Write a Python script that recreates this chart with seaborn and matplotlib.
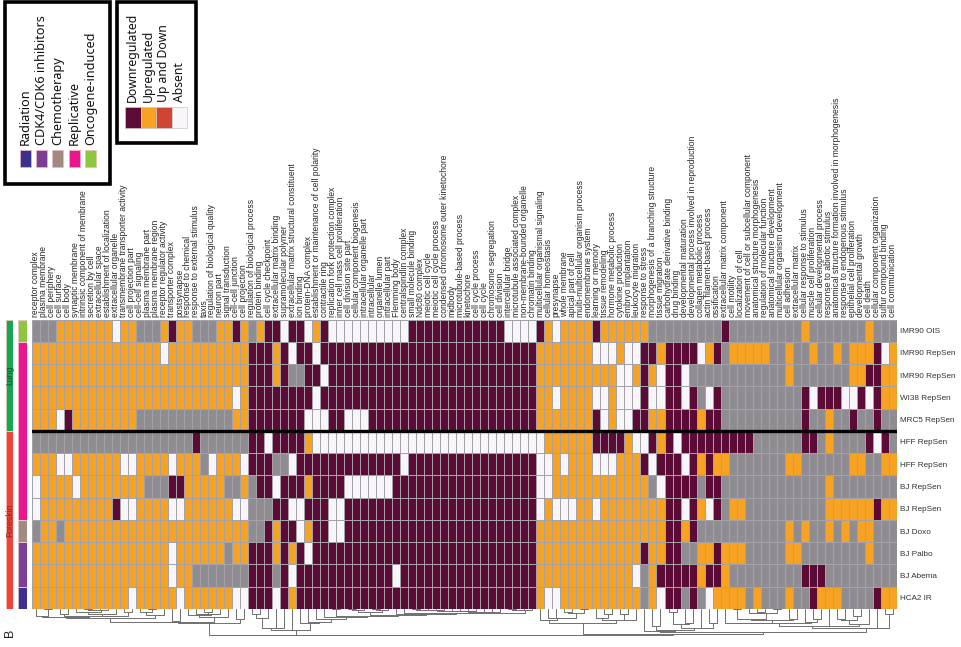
import numpy as np
import pandas as pd
import matplotlib
matplotlib.use("Agg")
import matplotlib.pyplot as plt
from matplotlib.colors import ListedColormap
from matplotlib.patches import Rectangle
import seaborn as sns

# GO terms (columns of the heatmap, left to right)
go_terms = [
    "receptor complex", "plasma membrane", "cell periphery", "cell surface", "cell body",
    "synaptic membrane", "intrinsic component of membrane", "secretion by cell",
    "extracellular space", "establishment of localization", "extracellular organelle",
    "transmembrane transporter activity", "cell projection part", "cell-cell signaling",
    "plasma membrane part", "plasma membrane region", "receptor regulator activity",
    "transporter complex", "postsynapse", "response to chemical",
    "response to external stimulus", "taxis", "regulation of biological quality",
    "neuron part", "signal transduction", "cell-cell junction", "cell projection",
    "regulation of biological process", "protein binding", "cell cycle checkpoint",
    "extracellular matrix binding", "supramolecular polymer",
    "extracellular matrix structural constituent", "ion binding", "protein-DNA complex",
    "establishment or maintenance of cell polarity", "contractile ring",
    "replication fork protection complex", "inner cell mass cell proliferation",
    "cell division site part", "cellular component biogenesis",
    "intracellular organelle part", "intracellular", "organelle lumen",
    "intracellular part", "Flemming body", "centralspindlin complex",
    "small molecule binding", "Ndc80 complex", "meiotic cell cycle",
    "meiotic cell cycle process", "condensed chromosome outer kinetochore", "midbody",
    "microtubule-based process", "kinetochore", "cell cycle process", "cell cycle",
    "chromosome segregation", "cell division", "intercellular bridge",
    "microtubule associated complex", "non-membrane-bounded organelle",
    "chromatin binding", "multicellular organismal signaling", "cellular homeostasis",
    "presynapse", "whole membrane", "apical part of cell",
    "multi-multicellular organism process", "endomembrane system", "learning or memory",
    "tissue remodeling", "hormone metabolic process", "cytokine production",
    "embryo implantation", "leukocyte migration", "response to stress",
    "morphogenesis of a branching structure", "tissue migration",
    "carbohydrate derivative binding", "drug binding", "developmental maturation",
    "developmental process involved in reproduction", "collagen metabolic process",
    "actin filament-based process", "ossification", "extracellular matrix component",
    "cell motility", "localization of cell", "movement of cell or subcellular component",
    "anatomical structure morphogenesis", "regulation of molecular function",
    "anatomical structure development", "multicellular organism development",
    "cell adhesion", "extracellular matrix", "cellular response to stimulus",
    "muscle cell proliferation", "cellular developmental process",
    "response to abiotic stimulus",
    "anatomical structure formation involved in morphogenesis",
    "response to endogenous stimulus", "epithelial cell proliferation",
    "developmental growth", "cell death", "cellular component organization",
    "sulfur compound binding", "cell communication",
]

samples = ["IMR90 OIS", "IMR90 RepSen", "IMR90 RepSen", "WI38 RepSen", "MRC5 RepSen",
           "HFF RepSen", "HFF RepSen", "BJ RepSen", "BJ RepSen", "BJ Doxo", "BJ Palbo",
           "BJ Abema", "HCA2 IR"]
tissue = ["Lung", "Lung", "Lung", "Lung", "Lung", "Foreskin", "Foreskin", "Foreskin",
          "Foreskin", "Foreskin", "Foreskin", "Foreskin", "Foreskin"]
sen_type = ["Oncogene-induced", "Replicative", "Replicative", "Replicative", "Replicative",
            "Replicative", "Replicative", "Replicative", "Replicative", "Chemotherapy",
            "CDK4/CDK6 inhibitors", "CDK4/CDK6 inhibitors", "Radiation"]

# status per sample, run-length coded: M=Downregulated, O=Upregulated,
# R=Up and Down, W=Absent, G=not tested
status_rows = [
    "G3 O7 W1 O2 G3 O1 M1 O2 G3 O2 M1 O1 G1 O1 M2 W1 M2 W1 O1 M1 W10 M12 W4 M1 O1 W1 O4 M1 O6 G9 M1 G9 O1 G7 O1 G3",
    "O16 W1 O10 M3 O1 M1 W1 M2 W1 M1 M26 O7 W3 O1 W2 M1 M1 O1 M4 W1 O1 M1 G1 O5 G2 O1 G2 O1 G2 O1 G1 O3 M1 W1 O1",
    "O27 M3 O1 M1 G2 M2 W1 M26 O10 W2 O1 M1 O1 W1 M2 W1 G12 O1 G7 O2 M2 O2",
    "O25 W1 O1 M8 W1 M1 M26 O2 W1 O4 W2 O1 W3 M1 W2 M2 W1 M1 G1 W1 M1 G10 M1 W1 M3 W2 M1 W1 M1 O2",
    "O3 W1 M1 O8 G12 O2 M7 W3 M2 W3 M21 O7 M1 W1 O1 W2 M1 M1 O2 M4 O1 M2 G10 M1 G2 O1 G2 M1 G2 M1 G2",
    "G20 M1 G6 M2 W1 M4 O1 W2 W27 O6 M4 O1 W2 M1 O1 M1 W1 M9 G6 M2 G1 O1 G4 M1 W1 M1 G1",
    "O3 W2 O6 W2 O4 W1 O3 G1 W1 O3 W1 M3 G2 W1 M4 M9 W1 M16 W2 O1 W1 O3 W3 O3 M1 W1 M3 W1 M1 O1 M1 O2 G7 O2 G6 O2 G2 O2",
    "W1 O4 W1 O8 G3 M2 O5 G2 O1 G1 M2 W1 M3 O1 M2 M2 W6 M18 W2 O12 G1 W1 M4 G1 M2 G13 O1 G8",
    "W1 O9 M1 W2 O4 W2 O6 W2 G3 M2 W2 M3 W2 M24 W1 O1 W3 O2 W1 O6 O2 M2 W1 M1 O1 W1 M1 G1 O2 G10 O6 M1 O2",
    "G1 O2 G1 O23 G2 M1 O1 M2 W1 O1 M2 W2 M24 O14 O2 M2 O1 M1 G11 O1 G1 O1 G2 O1 G1 O1 G1 O2 G3",
    "O17 W1 O6 G1 O2 M3 O1 M1 O1 M1 W1 M2 M26 O13 M1 O2 M2 G2 O2 M1 O3 G5 O2 G8 O1 G3",
    "O17 W1 O2 G7 M3 G1 M1 W1 M4 M8 W1 M17 O12 W1 G1 O1 M5 O1 M2 O1 G9 M3 G9",
    "O12 W1 O5 W1 O6 W2 M3 W1 M1 O1 M4 M26 O1 W2 O10 G1 O1 W1 M2 G1 M1 G1 W1 O4 G1 O1 G3 O1 G2 M1 O3 G4 M1 O2",
]

status_names = ["Downregulated", "Upregulated", "Up and Down", "Absent"]
status_colors = ["#5c0a36", "#f6a324", "#cf4433", "#f8f6fa", "#8f8d92"]
status_code = {"M": 0, "O": 1, "R": 2, "W": 3, "G": 4}

type_names = ["Radiation", "CDK4/CDK6 inhibitors", "Chemotherapy", "Replicative", "Oncogene-induced"]
type_colors = ["#3a318f", "#7c3f98", "#9f8b84", "#ec168c", "#8dc63f"]
tissue_names = ["Lung", "Foreskin"]
tissue_colors = ["#15a651", "#f04438"]
tissue_text = ["#0b5a2c", "#8a2620"]


def expand(rle):
    out = []
    for tok in rle.split():
        out += [status_code[tok[0]]] * int(tok[1:])
    return out


codes = np.array([expand(r) for r in status_rows])
df = pd.DataFrame(codes, index=samples, columns=go_terms)

sns.set_style("white")
plt.rcParams["font.family"] = ["Liberation Sans", "DejaVu Sans"]

W, H = 961, 647
fig = plt.figure(figsize=(W / 100, H / 100), dpi=100)


def px_axes(x0, y0, x1, y1):
    return fig.add_axes([x0 / W, 1 - y1 / H, (x1 - x0) / W, (y1 - y0) / H])


# main heatmap
ax = px_axes(31.7, 319.5, 896.8, 609)
sns.heatmap(df, cmap=ListedColormap(status_colors), vmin=-0.5, vmax=4.5, cbar=False,
            linewidths=0.6, linecolor="#a4a2a6", xticklabels=True, yticklabels=True, ax=ax)
ax.xaxis.tick_top()
ax.set_xticklabels(go_terms, rotation=90, fontsize=6.15)
ax.yaxis.tick_right()
ax.set_yticklabels(samples, rotation=0, fontsize=5.9, color="#333333")
ax.tick_params(length=0, pad=2)
ax.set_xlabel("")
ax.set_ylabel("")
n_lung = tissue.count("Lung")
ax.axhline(n_lung, color="black", lw=2.4)


def runs(values):
    out = []
    start = 0
    for i in range(1, len(values) + 1):
        if i == len(values) or values[i] != values[start]:
            out.append((values[start], start, i))
            start = i
    return out


# tissue bar
ax_t = px_axes(6, 319.5, 13.5, 609)
t_codes = pd.DataFrame([tissue_names.index(t) for t in tissue], index=samples)
sns.heatmap(t_codes, cmap=ListedColormap(tissue_colors), vmin=-0.5, vmax=1.5, cbar=False,
            xticklabels=False, yticklabels=False, ax=ax_t)
for name, a, b in runs(tissue):
    k = tissue_names.index(name)
    ax_t.add_patch(Rectangle((0, a), 1, b - a, fill=False, ec="#f4c9c4", lw=0.6))
    ax_t.text(0.5, (a + b) / 2, name, rotation=90, ha="center", va="center",
              fontsize=6.2, color=tissue_text[k])

# senescence type bar
ax_s = px_axes(17.5, 319.5, 26.5, 609)
s_codes = pd.DataFrame([type_names.index(t) for t in sen_type], index=samples)
sns.heatmap(s_codes, cmap=ListedColormap(type_colors), vmin=-0.5, vmax=4.5, cbar=False,
            xticklabels=False, yticklabels=False, ax=ax_s)
for name, a, b in runs(sen_type):
    ax_s.add_patch(Rectangle((0, a), 1, b - a, fill=False, ec="#f4c9d4", lw=0.6))

# column dendrogram (average linkage, joining neighbouring columns only)
D = (codes[:, :, None] != codes[:, None, :]).mean(axis=0)
clusters = [[i] for i in range(codes.shape[1])]
nodes = [(i + 0.5, 0.0) for i in range(codes.shape[1])]
links = []
while len(clusters) > 1:
    d = [D[np.ix_(clusters[k], clusters[k + 1])].mean() for k in range(len(clusters) - 1)]
    k = int(np.argmin(d))
    h = max(d[k], nodes[k][1], nodes[k + 1][1]) + 0.01
    (xl, hl), (xr, hr) = nodes[k], nodes[k + 1]
    links.append(([xl, xl, xr, xr], [hl, h, h, hr]))
    clusters[k:k + 2] = [clusters[k] + clusters[k + 1]]
    nodes[k:k + 2] = [((xl + xr) / 2, h)]

ax_d = px_axes(31.7, 609, 896.8, 636)
top = nodes[0][1]
for xs, ys in links:
    ax_d.plot(xs, ys, color="#6f6f6f", lw=0.7)
ax_d.set_xlim(0, codes.shape[1])
ax_d.set_ylim(top * 1.02, 0)
ax_d.axis("off")

# legends, drawn on a pixel overlay
ov = fig.add_axes([0, 0, 1, 1], facecolor="none")
ov.set_xlim(0, W)
ov.set_ylim(H, 0)
ov.axis("off")

ov.add_patch(Rectangle((5, 2), 105, 182, fill=False, ec="black", lw=2.6))
for i, (name, col) in enumerate(zip(type_names, type_colors)):
    xc = 25.5 + 16.2 * i
    ov.add_patch(Rectangle((xc - 5.5, 150), 11, 17, fc=col, ec="#f0b9b9", lw=0.5))
    ov.text(xc, 145, name, rotation=90, rotation_mode="anchor", ha="left", va="center",
            fontsize=9.1, family=["Noto Sans", "DejaVu Sans"], color="#111111")

ov.add_patch(Rectangle((117, 2), 79, 141, fill=False, ec="black", lw=2.6))
for i, name in enumerate(status_names):
    x0 = 125 + 15.6 * i
    ov.add_patch(Rectangle((x0, 107), 15.6, 21, fc=status_colors[i], ec="#c8c8c8", lw=0.5))
    ov.text(x0 + 7.8, 102, name, rotation=90, rotation_mode="anchor", ha="left", va="center",
            fontsize=8.8, family=["Noto Sans", "DejaVu Sans"], color="#111111")

ov.text(10, 633, "B", rotation=90, ha="center", va="center", fontsize=9, color="#222222")

fig.savefig("out.png", dpi=100)
